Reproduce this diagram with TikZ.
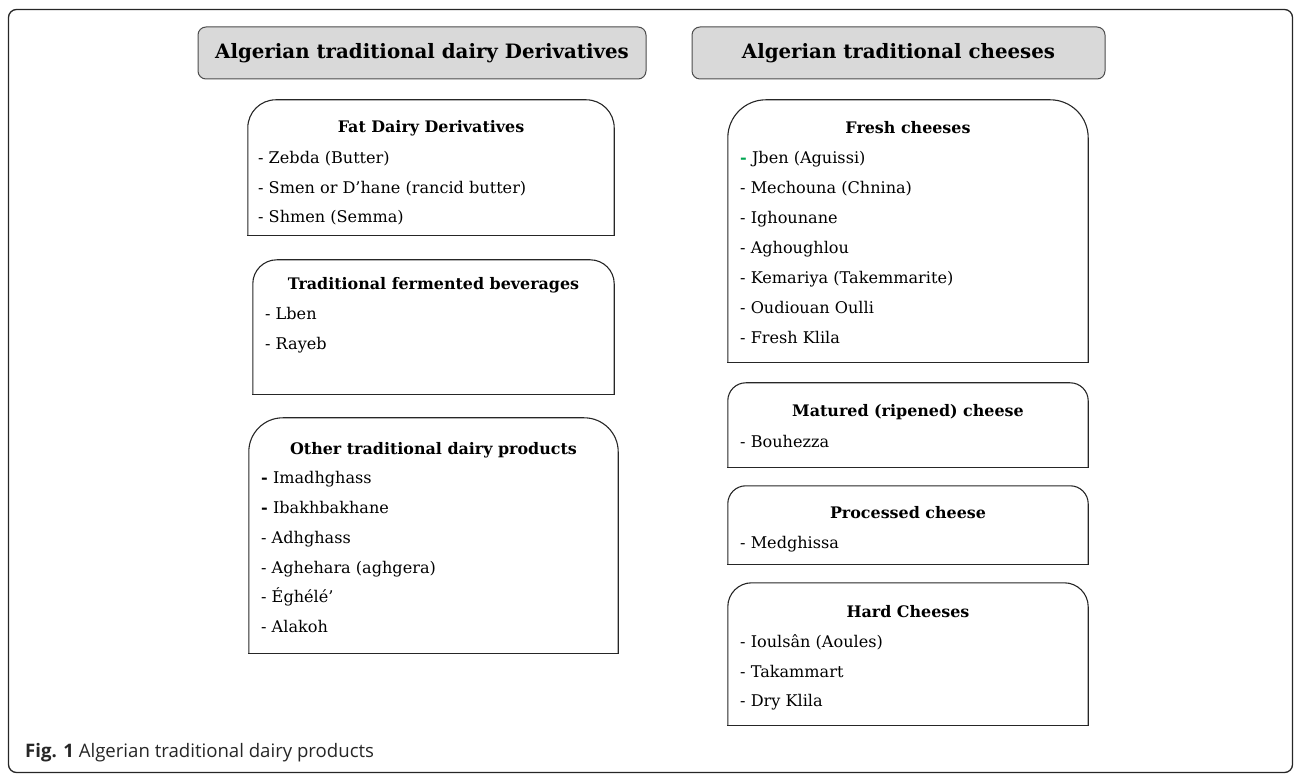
\documentclass[tikz,border=0pt]{standalone}
\usepackage{fontspec}
\setmainfont{DejaVu Serif}
\newfontfamily\capfont{Open Sans}
\definecolor{hdrgray}{HTML}{D9D9D9}
\definecolor{dashgreen}{HTML}{00A651}
\newcommand\itemfont{\fontsize{16.1}{18}\selectfont}
\newcommand\ttlfont{\fontsize{15.9}{18}\selectfont\bfseries}
\newcommand\hdrfont{\fontsize{19.8}{22}\selectfont\bfseries}
\newcommand\cbox[6]{%
  \node[boxnode, minimum width={#4pt-#2pt}, minimum height={#5pt-#3pt}] (#1) at ({(#2+#4)/2},{(#3+#5)/2}) {};
  \draw[boxline, rounded corners=#6pt] (#1.south west) -- (#1.north west) -- (#1.north east) -- (#1.south east);
  \draw[boxline, line cap=rect] (#1.south west) -- (#1.south east);
}
\begin{document}
\begin{tikzpicture}[x=1pt, y=-1pt,
  frame/.style={draw=black!85, line width=1.3pt, rounded corners=8pt, inner sep=0pt},
  hdr/.style={draw=black!70, fill=hdrgray, line width=1pt, rounded corners=8pt, inner sep=0pt, font=\hdrfont},
  boxnode/.style={draw=none, inner sep=0pt},
  boxline/.style={draw=black!85, line width=1.1pt},
  ttl/.style={anchor=base, inner sep=0pt, font=\ttlfont},
  itm/.style={anchor=base west, inner sep=0pt, font=\itemfont},
  captxt/.style={anchor=base west, inner sep=0pt, font=\capfont\fontsize{18.6}{20}\selectfont, text=black!85}]
\useasboundingbox (0,0) rectangle (1296,775);

\node[frame, minimum width=1284pt, minimum height=763pt] (frame) at (650.5,391) {};

\node[hdr, minimum width=448pt, minimum height=52pt] (hdrL) at (422,53) {Algerian traditional dairy Derivatives};
\node[hdr, minimum width=413pt, minimum height=52pt] (hdrR) at (898.5,53) {Algerian traditional cheeses};

% left column
\cbox{fat}{248}{100}{614}{235}{28}
\node[ttl] (fat-t) at (431,133) {Fat Dairy Derivatives};
\foreach [count=\n] \t/\y in {{- Zebda (Butter)}/164, {- Smen or D’hane (rancid butter)}/194, {- Shmen (Semma)}/223}
  \node[itm] (fat-\n) at (258,\y) {\t};

\cbox{ferm}{253}{260}{614}{394}{24}
\node[ttl] (ferm-t) at (433.5,290) {Traditional fermented beverages};
\foreach [count=\n] \t/\y in {{- Lben}/320, {- Rayeb}/350}
  \node[itm] (ferm-\n) at (265,\y) {\t};

\cbox{oth}{249}{418}{618}{653}{34}
\node[ttl] (oth-t) at (433.5,454) {Other traditional dairy products};
\foreach [count=\n] \t/\y in {{{\bfseries -} Imadhghass}/483, {{\bfseries -} Ibakhbakhane}/513, {- Adhghass}/543, {- Aghehara (aghgera)}/573, {- Éghélé’}/602, {- Alakoh}/632}
  \node[itm] (oth-\n) at (261,\y) {\t};

% right column
\cbox{fresh}{728}{100}{1088}{362}{38}
\node[ttl] (fresh-t) at (908,134) {Fresh cheeses};
\foreach [count=\n] \t/\y in {{{\bfseries\color{dashgreen}-} Jben (Aguissi)}/164, {- Mechouna (Chnina)}/194, {- Ighounane}/224, {- Aghoughlou}/254, {- Kemariya (Takemmarite)}/284, {- Oudiouan Oulli}/314, {- Fresh Klila}/344}
  \node[itm] (fresh-\n) at (740,\y) {\t};

\cbox{mat}{728}{383}{1088}{467}{18}
\node[ttl] (mat-t) at (908,417) {Matured (ripened) cheese};
\node[itm] (mat-1) at (740,447) {- Bouhezza};

\cbox{proc}{728}{486}{1088}{564}{18}
\node[ttl] (proc-t) at (908,518) {Processed cheese};
\node[itm] (proc-1) at (740,548) {- Medghissa};

\cbox{hard}{728}{583}{1088}{725}{24}
\node[ttl] (hard-t) at (908,617) {Hard Cheeses};
\foreach [count=\n] \t/\y in {{- Ioulsân (Aoules)}/647, {- Takammart}/677, {- Dry Klila}/706}
  \node[itm] (hard-\n) at (740,\y) {\t};

\node[captxt] (caption) at (25,757) {{\bfseries Fig. 1} Algerian traditional dairy products};
\end{tikzpicture}
\end{document}
